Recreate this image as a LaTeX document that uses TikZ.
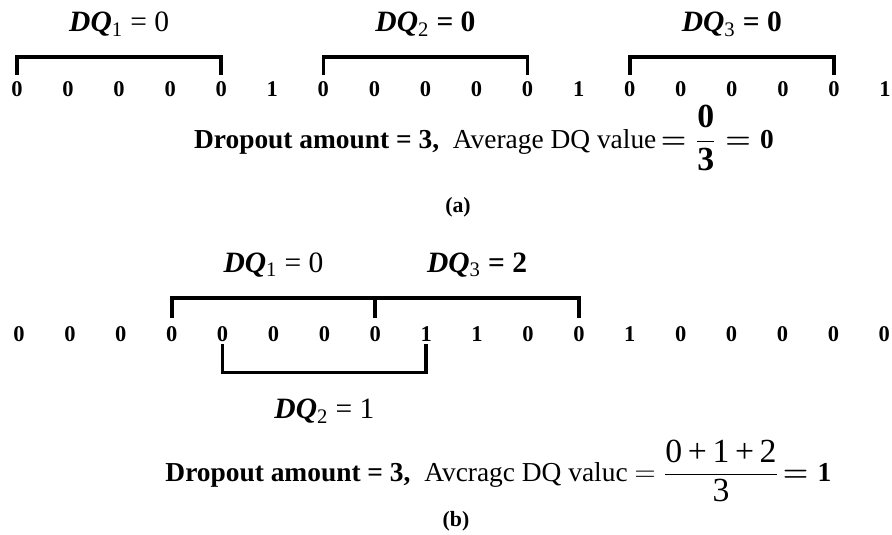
\documentclass[tikz,border=0pt]{standalone}
\usepackage{amsmath}
\usepackage{fontspec}
\setmainfont{Liberation Serif}
\usetikzlibrary{positioning, calc}

\newcommand{\grande}[1]{\text{\fontsize{24}{24}\selectfont #1}}

\begin{document}
\begin{tikzpicture}[
        bit/.style={inner sep=0pt, anchor=base, font=\fontsize{16}{16}\selectfont\bfseries},
        llave/.style={line width=2.6pt},
        etiq/.style={inner sep=0pt, font=\fontsize{21}{24}\selectfont},
        texto/.style={inner sep=0pt, anchor=base, font=\fontsize{19.5}{22}\selectfont},
        caso/.style={font=\fontsize{15.5}{17}\selectfont\bfseries}]
    \useasboundingbox (0,0) rectangle (22.3,-13.375);
    % (a) dropouts separados
    \foreach \v [count=\i from 0] in {0,0,0,0,0,1,0,0,0,0,0,1,0,0,0,0,0,1}
        \node[bit] (a\i) at (0.425+1.2765*\i,-2.42) {\v};
    \draw[llave] ([yshift=1.6mm]a0.north) -- ++(0,0.45) -| node[pos=0.25, above=4.7mm, etiq] (q1) {\textbf{\textit{DQ}}\textsubscript{1} = 0} ([yshift=1.6mm]a4.north);
    \draw[llave] ([yshift=1.6mm]a6.north) -- ++(0,0.45) -| node[pos=0.25, above=4.7mm, etiq] (q2) {\textbf{\textit{DQ}}\textsubscript{2} \textbf{= 0}} ([yshift=1.6mm]a10.north);
    \draw[llave] ([yshift=1.6mm]a12.north) -- ++(0,0.45) -| node[pos=0.25, above=4.7mm, etiq] (q3) {\textbf{\textit{DQ}}\textsubscript{3} \textbf{= 0}} ([yshift=1.6mm]a16.north);
    \node[texto] (ra) at (12.1,-3.72) {\textbf{Dropout amount = 3,}\enspace Average DQ value\,{\bfseries\boldmath$=\dfrac{\grande{0}}{\grande{3}}=\text{0}$}};
    \node[caso] (la) at (11.45,-5.175) {(a)};
    % (b) dropouts solapados
    \foreach \v [count=\i from 0] in {0,0,0,0,0,0,0,0,1,1,0,0,1,0,0,0,0,0}
        \node[bit] (b\i) at (0.475+1.2725*\i,-8.55) {\v};
    \draw[llave] ([yshift=2.2mm]b3.north) -- ++(0,0.5) -| node[pos=0.25, above=4.7mm, etiq] (r1) {\textbf{\textit{DQ}}\textsubscript{1} = 0} ([yshift=2.2mm]b7.north);
    \draw[llave] ([yshift=7.2mm]b7.north) -| node[pos=0.25, above=4.7mm, etiq] (r3) {\textbf{\textit{DQ}}\textsubscript{3} \textbf{= 2}} ([yshift=2.2mm]b11.north);
    \draw[llave] ([yshift=-0.5mm]b4.south) -- ++(0,-0.7) -| node[pos=0.25, below=6.2mm, etiq] (r2) {\textbf{\textit{DQ}}\textsubscript{2} = 1} ([yshift=-0.5mm]b8.south);
    \node[texto] (rb) at (12.46,-12.05) {\textbf{Dropout amount = 3,}\enspace Avcragc DQ valuc $=\dfrac{\grande{0\,+\,1\,+\,2}}{\grande{3}}$\,{\bfseries\boldmath$=\text{1}$}};
    \node[caso] (lb) at (11.4,-13.03) {(b)};
\end{tikzpicture}
\end{document}
